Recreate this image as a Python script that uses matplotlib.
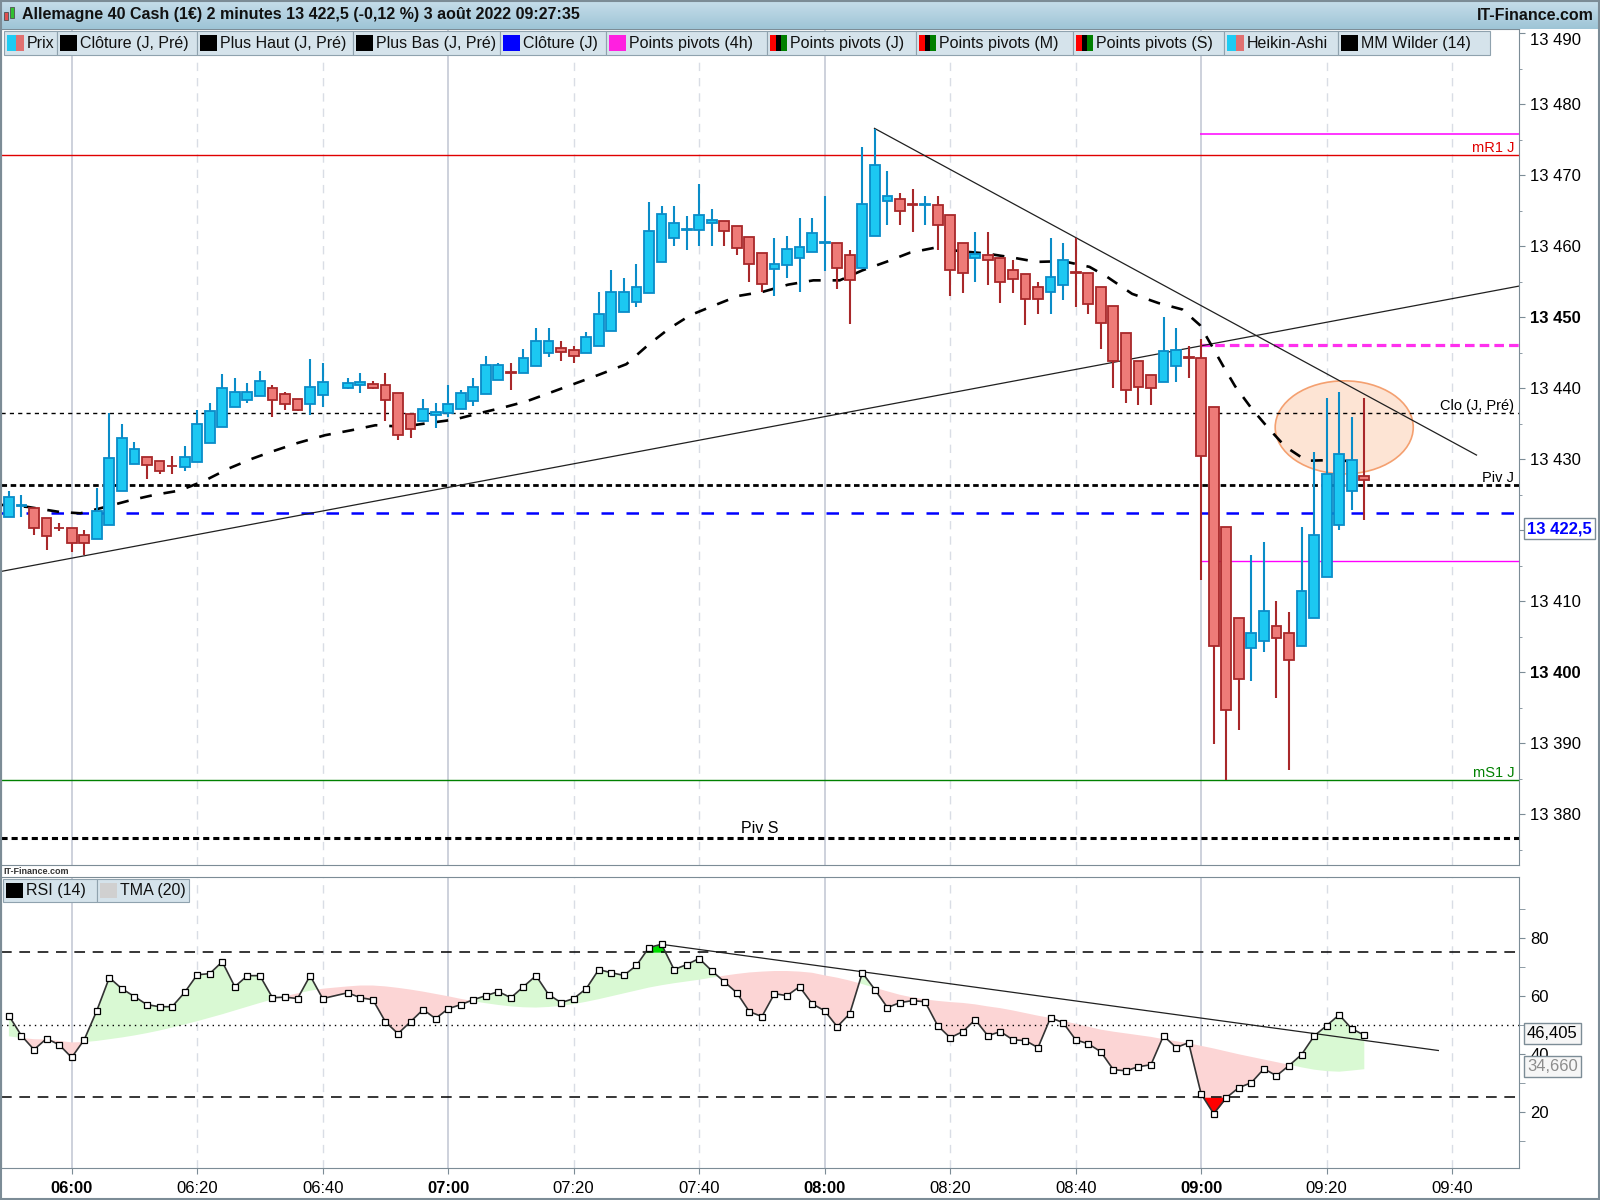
import matplotlib
matplotlib.use("Agg")
import matplotlib.pyplot as plt
import matplotlib.patches as mpatches
import numpy as np

plt.rcParams['font.family'] = ['Liberation Sans', 'DejaVu Sans']

# ── Heikin-Ashi candles (2 min), 06:42 has no bar ──────────────────────────────
times = [
    "05:50", "05:52", "05:54", "05:56", "05:58",
    "06:00", "06:02", "06:04", "06:06", "06:08", "06:10", "06:12", "06:14", "06:16", "06:18",
    "06:20", "06:22", "06:24", "06:26", "06:28", "06:30", "06:32", "06:34", "06:36", "06:38",
    "06:40", "06:44", "06:46", "06:48", "06:50", "06:52", "06:54", "06:56", "06:58",
    "07:00", "07:02", "07:04", "07:06", "07:08", "07:10", "07:12", "07:14", "07:16", "07:18",
    "07:20", "07:22", "07:24", "07:26", "07:28", "07:30", "07:32", "07:34", "07:36", "07:38",
    "07:40", "07:42", "07:44", "07:46", "07:48", "07:50", "07:52", "07:54", "07:56", "07:58",
    "08:00", "08:02", "08:04", "08:06", "08:08", "08:10", "08:12", "08:14", "08:16", "08:18",
    "08:20", "08:22", "08:24", "08:26", "08:28", "08:30", "08:32", "08:34", "08:36", "08:38",
    "08:40", "08:42", "08:44", "08:46", "08:48", "08:50", "08:52", "08:54", "08:56", "08:58",
    "09:00", "09:02", "09:04", "09:06", "09:08", "09:10", "09:12", "09:14", "09:16", "09:18",
    "09:20", "09:22", "09:24", "09:26",
]
opens = [
    13421.9, 13423.4, 13423.2, 13421.8, 13420.4,
    13420.3, 13419.4, 13418.8, 13420.8, 13425.6, 13429.3, 13430.3, 13429.8, 13429.1, 13428.9,
    13429.6, 13432.3, 13434.6, 13437.4, 13438.4, 13438.9, 13440.0, 13439.2, 13438.5, 13437.8,
    13439.1, 13440.1, 13440.4, 13440.6, 13440.5, 13439.3, 13436.4, 13435.4, 13436.2,
    13436.5, 13437.1, 13438.2, 13439.2, 13441.2, 13442.3, 13442.2, 13443.2, 13445.0, 13445.7,
    13445.4, 13445.0, 13446.0, 13448.1, 13450.8, 13452.2, 13453.4, 13457.8, 13461.2, 13462.3,
    13462.3, 13463.3, 13463.6, 13462.9, 13461.3, 13459.1, 13456.8, 13457.3, 13458.4, 13459.2,
    13460.5, 13460.5, 13458.8, 13457.0, 13461.5, 13466.4, 13466.7, 13465.9, 13465.8, 13465.8,
    13464.4, 13460.5, 13458.4, 13458.7, 13458.4, 13456.7, 13456.1, 13454.3, 13453.5, 13454.6,
    13456.4, 13456.3, 13454.2, 13451.6, 13447.8, 13443.8, 13441.9, 13440.9, 13443.2, 13444.4,
    13444.2, 13437.3, 13420.5, 13407.6, 13403.4, 13404.4, 13406.5, 13405.6, 13403.7, 13407.6,
    13413.4, 13420.7, 13425.6, 13427.7,
]
highs = [
    13425.5, 13425.0, 13423.2, 13421.8, 13421.0,
    13420.3, 13420.0, 13426.0, 13436.5, 13435.0, 13432.5, 13430.3, 13429.8, 13430.5, 13431.9,
    13437.0, 13438.0, 13442.0, 13441.4, 13440.8, 13442.4, 13440.5, 13439.5, 13438.5, 13444.1,
    13443.5, 13441.5, 13442.1, 13441.0, 13442.1, 13439.3, 13436.4, 13438.5, 13438.0,
    13440.5, 13439.8, 13441.5, 13444.5, 13443.5, 13443.5, 13445.6, 13448.5, 13448.5, 13446.6,
    13446.0, 13447.9, 13453.5, 13456.6, 13455.5, 13457.5, 13466.2, 13465.6, 13465.6, 13464.3,
    13468.7, 13465.3, 13463.6, 13462.9, 13461.3, 13459.1, 13461.1, 13461.5, 13464.0, 13464.0,
    13467.1, 13460.5, 13459.5, 13474.0, 13476.5, 13470.6, 13467.5, 13468.1, 13467.1, 13467.1,
    13464.4, 13460.5, 13462.0, 13462.0, 13458.4, 13458.1, 13456.1, 13455.0, 13461.1, 13460.5,
    13461.2, 13456.3, 13454.2, 13451.6, 13447.8, 13443.8, 13441.9, 13450.1, 13448.5, 13446.0,
    13447.0, 13437.3, 13420.5, 13407.6, 13416.5, 13418.4, 13410.0, 13408.5, 13420.5, 13431.0,
    13438.6, 13439.5, 13436.0, 13438.6,
]
lows = [
    13421.9, 13421.9, 13419.4, 13417.3, 13419.9,
    13416.9, 13416.5, 13418.8, 13420.8, 13425.6, 13429.3, 13427.3, 13427.9, 13427.9, 13428.4,
    13429.6, 13432.3, 13434.6, 13437.4, 13437.9, 13438.9, 13435.9, 13437.0, 13436.8, 13436.3,
    13437.4, 13439.9, 13439.4, 13439.9, 13435.4, 13432.7, 13433.0, 13435.4, 13434.4,
    13435.9, 13437.1, 13437.5, 13439.2, 13441.2, 13439.7, 13442.2, 13443.2, 13444.4, 13443.9,
    13443.5, 13445.0, 13446.0, 13448.1, 13450.8, 13451.4, 13453.4, 13457.8, 13460.0, 13459.5,
    13460.1, 13460.1, 13460.1, 13458.8, 13455.0, 13453.5, 13453.0, 13455.6, 13453.5, 13459.2,
    13456.5, 13454.0, 13449.0, 13457.0, 13461.5, 13463.0, 13463.0, 13462.0, 13463.0, 13459.5,
    13453.0, 13453.4, 13455.0, 13454.5, 13452.0, 13453.4, 13448.9, 13450.5, 13450.5, 13452.4,
    13451.4, 13450.4, 13445.5, 13440.0, 13438.0, 13437.6, 13437.6, 13440.9, 13440.9, 13441.5,
    13413.0, 13389.9, 13384.8, 13391.9, 13398.8, 13402.9, 13396.4, 13386.3, 13403.7, 13407.6,
    13413.4, 13420.0, 13422.9, 13421.5,
]
closes = [
    13424.7, 13423.5, 13420.4, 13419.2, 13420.3,
    13418.2, 13418.2, 13422.7, 13430.2, 13433.0, 13431.5, 13429.2, 13428.4, 13429.0, 13430.3,
    13435.0, 13436.8, 13440.0, 13439.5, 13439.5, 13441.0, 13438.4, 13437.8, 13437.0, 13440.2,
    13440.9, 13440.8, 13440.9, 13440.1, 13438.4, 13433.4, 13434.3, 13437.1, 13436.7,
    13437.8, 13439.3, 13440.2, 13443.3, 13443.3, 13442.1, 13444.3, 13446.7, 13446.6, 13445.1,
    13444.5, 13447.2, 13450.4, 13453.5, 13453.5, 13454.3, 13462.1, 13464.5, 13463.3, 13462.4,
    13464.4, 13463.7, 13462.2, 13459.8, 13457.5, 13454.7, 13457.5, 13459.6, 13459.9, 13461.8,
    13460.6, 13457.0, 13455.2, 13466.0, 13471.5, 13467.1, 13465.0, 13465.8, 13465.9, 13463.0,
    13456.6, 13456.3, 13458.9, 13458.1, 13455.0, 13455.4, 13452.6, 13452.6, 13455.7, 13458.1,
    13456.3, 13451.9, 13449.2, 13443.8, 13439.7, 13440.2, 13440.0, 13445.3, 13445.4, 13444.3,
    13430.4, 13403.7, 13394.7, 13399.1, 13405.5, 13408.7, 13404.8, 13401.7, 13411.5, 13419.3,
    13427.9, 13430.7, 13429.9, 13427.1,
]

# ── RSI (14) and its TMA (20), one value per bar ──────────────────────────────
rsi = [
    53.1, 46.2, 41.4, 45.2, 43.1,
    38.7, 44.8, 54.8, 66.2, 62.4, 59.7, 56.9, 56.2, 56.2, 61.1,
    67.2, 67.6, 71.7, 63.1, 66.9, 66.9, 59.3, 59.5, 59.0, 66.9,
    59.0, 61.0, 59.3, 58.6, 51.0, 46.9, 51.0, 55.2, 52.1,
    55.5, 56.9, 58.6, 60.0, 61.4, 59.3, 63.1, 66.9, 60.4, 57.6,
    59.0, 62.4, 69.0, 67.9, 67.0, 70.4, 76.6, 77.7, 69.0, 70.7,
    72.8, 68.6, 64.8, 61.0, 54.5, 52.8, 60.7, 60.0, 63.1, 57.2,
    54.8, 49.3, 53.8, 67.9, 62.1, 55.9, 57.6, 58.3, 57.9, 49.7,
    45.5, 47.6, 51.7, 46.2, 47.6, 44.8, 44.5, 42.1, 52.4, 50.7,
    44.8, 43.4, 40.7, 34.5, 34.1, 35.5, 36.2, 46.2, 42.1, 43.8,
    26.1, 19.3, 24.8, 28.3, 30.0, 34.8, 32.4, 35.9, 39.7, 46.1,
    49.7, 53.4, 48.6, 46.4,
]
tma = [
    46.0, 45.4, 45.0, 44.9, 44.4,
    43.9, 44.0, 44.4, 45.0, 45.6, 46.3, 47.1, 48.0, 49.0, 50.1,
    51.2, 52.4, 53.6, 54.9, 56.2, 57.5, 58.7, 59.8, 60.8, 61.7,
    62.4, 63.2, 63.5, 63.5, 63.2, 62.7, 62.1, 61.4, 60.6,
    59.8, 58.9, 58.1, 57.4, 56.8, 56.3, 56.0, 55.9, 56.1, 56.5,
    57.1, 57.9, 58.8, 59.8, 60.8, 61.8, 62.8, 63.6, 64.3, 64.9,
    65.5, 66.2, 66.9, 67.5, 68.0, 68.3, 68.5, 68.5, 68.3, 67.9,
    67.0, 66.2, 65.2, 64.0, 62.7, 61.5, 60.3, 59.4, 58.7, 58.2,
    57.8, 57.5, 57.0, 56.3, 55.7, 54.9, 54.0, 53.1, 52.3, 51.3,
    50.3, 49.3, 48.3, 47.6, 47.0, 46.4, 45.8, 45.0, 44.3, 43.6,
    42.7, 41.8, 40.8, 39.8, 38.9, 38.0, 37.1, 36.2, 35.3, 34.5,
    34.0, 33.8, 34.2, 34.66,
]

# ── MM Wilder (14) (bar units from 06:00) ─────────────────────────────────────
ma_bar = [-5.7, -3.5, -1.0, 0.7, 2.7, 4.6, 6.6, 8.6, 10.6, 12.5, 14.4, 15.8, 18.0,
          20.2, 22.3, 24.2, 26.4, 28.4, 30.5, 32.5, 34.4, 36.3, 38.0, 40.0, 42.0,
          44.2, 46.0, 47.6, 49.3, 51.1, 53.1, 55.1, 57.1, 59.1, 61.2, 63.0, 64.9,
          66.8, 68.8, 70.8, 72.8, 75.0, 76.9, 79.0, 81.1, 82.5, 84.5, 86.6, 88.5,
          89.9, 90.9, 91.7, 92.7, 94.0, 95.3, 96.7, 98.4, 100.5, 102.3]
ma_val = [13423.6, 13423.3, 13422.6, 13422.4, 13423.3, 13424.2, 13425.0, 13425.6,
          13427.0, 13428.7, 13430.1, 13431.0, 13432.3, 13433.4, 13434.1, 13434.8,
          13434.6, 13435.1, 13435.6, 13436.5, 13437.3, 13438.2, 13439.3, 13440.6,
          13441.9, 13443.4, 13446.2, 13448.4, 13450.3, 13451.6, 13453.0, 13453.6,
          13454.6, 13455.2, 13455.2, 13456.6, 13457.8, 13459.1, 13459.8, 13459.3,
          13459.0, 13458.4, 13457.8, 13457.9, 13457.1, 13455.7, 13453.3, 13452.0,
          13451.1, 13448.9, 13445.8, 13443.3, 13440.3, 13437.2, 13434.5, 13431.8,
          13429.8, 13429.9, 13429.7]

# ── Levels ─────────────────────────────────────────────────────────────────────
MR1_J = 13472.85
R_4H = 13475.85
PIV_4H = 13446.1
S_4H = 13415.7
CLO_PRE = 13436.55
PIV_J = 13426.4
CLO_J = 13422.5
MS1_J = 13384.8
PIV_S = 13376.7
LEVEL_4H_START = 89.9        # 09:00

trend_down_x, trend_down_y = [63.97, 111.94], [13476.6, 13430.6]
trend_up_x, trend_up_y = [-5.67, 115.35], [13414.2, 13454.4]
rsi_trend_x, rsi_trend_y = [47.0, 108.9], [77.7, 41.1]

xtick_bars = list(range(0, 111, 10))
xtick_labels = ["06:00", "06:20", "06:40", "07:00", "07:20", "07:40",
                "08:00", "08:20", "08:40", "09:00", "09:20", "09:40"]
ytick_vals = list(range(13380, 13491, 10))

# ── Helpers ────────────────────────────────────────────────────────────────────
W, H = 1600, 1200
EDGE = "#7C8C96"


def to_bar(t):
    hh, mm = t.split(":")
    return (int(hh) * 60 + int(mm) - 360) / 2.0


def fxy(x, y):
    return x / W, 1 - y / H


def frect(x0, y0, x1, y1):
    return [x0 / W, 1 - y1 / H, (x1 - x0) / W, (y1 - y0) / H]


x = np.array([to_bar(t) for t in times])
o, h, l, c = map(np.array, (opens, highs, lows, closes))
rsi_a, tma_a = np.array(rsi), np.array(tma)
XMIN, XMAX = -5.67, 115.35

fig = plt.figure(figsize=(16, 12), dpi=100)
fig.patch.set_facecolor("white")

ax = fig.add_axes(frect(0.5, 29, 1519.3, 865.3))
axr = fig.add_axes(frect(0.5, 877.3, 1519.3, 1168.3))

for a in (ax, axr):
    a.set_xlim(XMIN, XMAX)
    for s in a.spines.values():
        s.set_color(EDGE)
    for k in xtick_bars:
        if k % 30 == 0:
            a.axvline(k, color="#C5CAD6", lw=1.2, zorder=0.5)
        else:
            a.axvline(k, color="#D9DDE5", lw=1.0, ls=(0, (6, 5)), zorder=0.5)

# ── Price panel ────────────────────────────────────────────────────────────────
ax.set_ylim(13372.84, 13490.59)

ax.add_patch(mpatches.Ellipse((101.4, 13434.5), 11.0, 13.1, facecolor="#FDE4D4",
                              edgecolor="#F4A070", lw=1.2, zorder=1.5))

ax.axhline(MR1_J, color="#E00000", lw=1.0, zorder=2)
ax.hlines(R_4H, LEVEL_4H_START, XMAX, color="#FF00FF", lw=1.1, zorder=2)
ax.hlines(PIV_4H, LEVEL_4H_START, XMAX, color="#FF30EE", lw=2.3, ls=(0, (3, 1.6)), zorder=2)
ax.hlines(S_4H, LEVEL_4H_START, XMAX, color="#FF00FF", lw=1.0, zorder=2)
ax.axhline(CLO_PRE, color="black", lw=1.0, ls=(0, (3, 3)), zorder=2)
ax.axhline(PIV_J, color="black", lw=2.0, ls=(0, (2, 1.3)), zorder=2)
ax.axhline(CLO_J, color="#0000FF", lw=1.8, ls=(0, (5, 5)), zorder=2)
ax.axhline(MS1_J, color="#008000", lw=1.0, zorder=2)
ax.axhline(PIV_S, color="black", lw=2.2, ls=(0, (2, 1.3)), zorder=2)

ax.plot(trend_down_x, trend_down_y, color="#202020", lw=0.9, zorder=2.5)
ax.plot(trend_up_x, trend_up_y, color="#202020", lw=0.9, zorder=2.5)

ax.plot(ma_bar, ma_val, color="black", lw=1.9, ls=(0, (4.5, 4.5)), zorder=3)

bull = c >= o
face = np.where(bull, "#1CC8F2", "#EE7B78")
edge = np.where(bull, "#0A8CC8", "#A8282A")
ax.vlines(x, l, h, colors=edge, lw=1.5, zorder=3.5)
ax.bar(x, np.abs(c - o), bottom=np.minimum(o, c), width=0.78, color=face,
       edgecolor=edge, linewidth=1.3, zorder=4)

lbl_tr = ax.get_yaxis_transform()
right_x = 1514 / 1519
ax.text(right_x, MR1_J, "mR1 J", transform=lbl_tr, ha="right", va="bottom",
        color="#E00000", fontsize=10.5, zorder=5)
ax.text(right_x, CLO_PRE, "Clo (J, Pré)", transform=lbl_tr, ha="right", va="bottom",
        color="black", fontsize=10.5, zorder=5)
ax.text(right_x, PIV_J, "Piv J", transform=lbl_tr, ha="right", va="bottom",
        color="black", fontsize=10.5, zorder=5)
ax.text(right_x, MS1_J, "mS1 J", transform=lbl_tr, ha="right", va="bottom",
        color="#008000", fontsize=10.5, zorder=5)
ax.text(54.8, PIV_S + 0.3, "Piv S", ha="center", va="bottom", color="black",
        fontsize=11.5, zorder=5)

# the 13 420 label sits under the "Clôture (J)" value box, so it stays blank
ax.yaxis.tick_right()
ax.set_yticks(ytick_vals)
ax.set_yticklabels(["" if v == 13420 else f"{v // 1000} {v % 1000:03d}" for v in ytick_vals])
ax.set_yticks(np.arange(13375, 13490, 10), minor=True)
ax.tick_params(axis="y", which="major", length=4, color=EDGE, labelsize=12, pad=4)
ax.tick_params(axis="y", which="minor", length=2.5, color=EDGE)
ax.tick_params(axis="x", length=0, labelbottom=False)
for v, t in zip(ytick_vals, ax.get_yticklabels()):
    if v in (13400, 13450):
        t.set_fontweight("bold")
    if v == 13490:
        t.set_verticalalignment("top")

# ── RSI panel ──────────────────────────────────────────────────────────────────
axr.set_ylim(0.5, 100.8)
axr.fill_between(x, rsi_a, tma_a, where=rsi_a >= tma_a, interpolate=True,
                 color="#D9F9D3", lw=0, zorder=1)
axr.fill_between(x, rsi_a, tma_a, where=rsi_a < tma_a, interpolate=True,
                 color="#FCD5D5", lw=0, zorder=1)
axr.fill_between(x, rsi_a, 75, where=rsi_a > 75, interpolate=True,
                 color="#00DD00", lw=0, zorder=1.5)
axr.fill_between(x, rsi_a, 25, where=rsi_a < 25, interpolate=True,
                 color="#FF0000", lw=0, zorder=1.5)
axr.axhline(75, color="black", lw=1.1, ls=(0, (7, 5)), zorder=2)
axr.axhline(25, color="black", lw=1.1, ls=(0, (7, 5)), zorder=2)
axr.axhline(50, color="black", lw=1.0, ls=(0, (1, 3)), zorder=2)
axr.plot(rsi_trend_x, rsi_trend_y, color="#202020", lw=0.9, zorder=2.5)
axr.plot(x, rsi_a, color="#333333", lw=1.2, marker="s", ms=4.5, mfc="white",
         mec="black", mew=0.9, zorder=3)

axr.yaxis.tick_right()
axr.set_yticks([20, 40, 60, 80])
axr.set_yticks([10, 30, 50, 70, 90], minor=True)
axr.tick_params(axis="y", which="major", length=4, color=EDGE, labelsize=12, pad=4)
axr.tick_params(axis="y", which="minor", length=4, color=EDGE)
axr.set_xticks(xtick_bars)
axr.set_xticklabels(xtick_labels)
axr.tick_params(axis="x", length=4, color=EDGE, labelsize=12, pad=5)
for k, t in zip(xtick_bars, axr.get_xticklabels()):
    if k % 30 == 0:
        t.set_fontweight("bold")

# ── Value boxes on the right axis ─────────────────────────────────────────────
fig.text(*fxy(1527, 528.6), "13 422,5", color="#0000FF", fontweight="bold",
         fontsize=12, va="center", zorder=9,
         bbox=dict(boxstyle="square,pad=0.18", facecolor="white", edgecolor=EDGE, lw=1))
fig.text(*fxy(1527, 1033), "46,405", color="black", fontsize=12, va="center", zorder=9,
         bbox=dict(boxstyle="square,pad=0.18", facecolor="#F6F6F6", edgecolor=EDGE, lw=1))
fig.text(*fxy(1527, 1066.5), "34,660", color="#8C8C8C", fontsize=12, va="center", zorder=9,
         bbox=dict(boxstyle="square,pad=0.18", facecolor="#F6F6F6", edgecolor=EDGE, lw=1))

# ── Title bar ──────────────────────────────────────────────────────────────────
hdr = fig.add_axes(frect(0, 0, 1600, 29))
grad = np.linspace(0, 1, 32).reshape(-1, 1)
top_c, bot_c = np.array([0.78, 0.87, 0.92]), np.array([0.62, 0.77, 0.84])
hdr.imshow(top_c + grad[..., None] * (bot_c - top_c), aspect="auto", extent=(0, 1, 0, 1))
hdr.set_axis_off()
fig.text(*fxy(22, 15), "Allemagne 40 Cash (1€) 2 minutes 13 422,5 (-0,12 %) 3 août 2022 09:27:35",
         fontsize=11.5, fontweight="bold", va="center", color="#111111", zorder=8)
fig.text(*fxy(1594, 15), "IT-Finance.com", fontsize=11.5, fontweight="bold",
         ha="right", va="center", color="#111111", zorder=8)
# little candle icon
for (x0, y0, x1, y1, col) in [(4, 12, 8, 20, "#E05050"), (10, 7, 14, 18, "#30C030")]:
    fig.patches.append(mpatches.Rectangle(fxy(x0, y1), (x1 - x0) / W, (y1 - y0) / H,
                                          transform=fig.transFigure, facecolor=col,
                                          edgecolor="#505050", lw=0.6, zorder=8))

# ── Legend rows ────────────────────────────────────────────────────────────────
LEG_BG, LEG_EDGE = "#D5E3EB", "#8FA2AE"


def legend_item(x0, x1, y0, y1, label, swatch):
    fig.patches.append(mpatches.Rectangle(fxy(x0, y1), (x1 - x0) / W, (y1 - y0) / H,
                                          transform=fig.transFigure, facecolor=LEG_BG,
                                          edgecolor=LEG_EDGE, lw=0.8, zorder=6))
    sw = 17.0
    n = len(swatch)
    for i, col in enumerate(swatch):
        fig.patches.append(mpatches.Rectangle(fxy(x0 + 3 + i * sw / n, y1 - 4), sw / n / W,
                                              (y1 - y0 - 8) / H, transform=fig.transFigure,
                                              facecolor=col, lw=0, zorder=7))
    fig.text(*fxy(x0 + 23, (y0 + y1) / 2 + 0.5), label, fontsize=11.5, va="center",
             color="#111111", zorder=8)


BLUE, RED = "#1ECBF2", "#E07070"
PIV = ["#FF0000", "#000000", "#008000"]
legend_items = [
    (4, 57, "Prix", [BLUE, RED]),
    (57, 197, "Clôture (J, Pré)", ["#000000"]),
    (197, 353, "Plus Haut (J, Pré)", ["#000000"]),
    (353, 500, "Plus Bas (J, Pré)", ["#000000"]),
    (500, 606, "Clôture (J)", ["#0000FF"]),
    (606, 767, "Points pivots (4h)", ["#FF20E0"]),
    (767, 916, "Points pivots (J)", PIV),
    (916, 1073, "Points pivots (M)", PIV),
    (1073, 1224, "Points pivots (S)", PIV),
    (1224, 1338, "Heikin-Ashi", [BLUE, RED]),
    (1338, 1490, "MM Wilder (14)", ["#000000"]),
]
for x0, x1, lab, sw in legend_items:
    legend_item(x0, x1, 31, 55, lab, sw)

legend_item(3, 97, 879, 902, "RSI (14)", ["#000000"])
legend_item(97, 189, 879, 902, "TMA (20)", ["#D0D0D0"])

fig.text(*fxy(3, 871), "IT-Finance.com", fontsize=6.5, fontweight="bold",
         va="center", color="#333333", zorder=8)

# outer frame
fig.patches.append(mpatches.Rectangle((0.0005, 0.0005), 0.999, 0.999, transform=fig.transFigure,
                                      fill=False, edgecolor=EDGE, lw=1.5, zorder=10))

fig.savefig("out.png", dpi=100)
